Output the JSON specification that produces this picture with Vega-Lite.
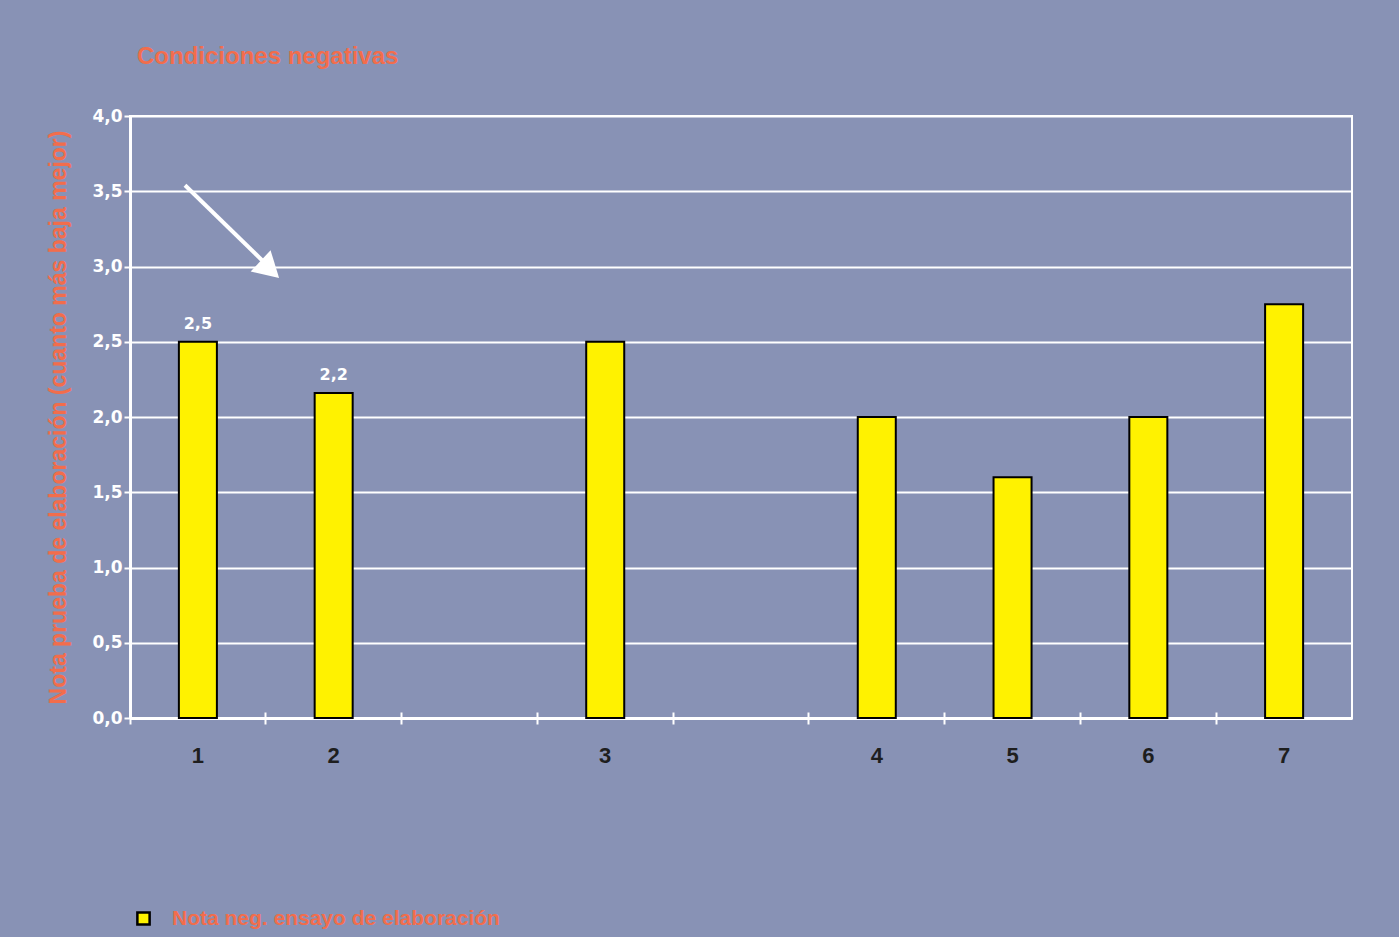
{
  "$schema": "https://vega.github.io/schema/vega-lite/v6.json",
  "autosize": "none",
  "width": 1222,
  "height": 602,
  "padding": {"left": 130, "top": 116, "right": 47, "bottom": 219},
  "background": "#8892b5",
  "title": {
    "text": "Condiciones negativas",
    "anchor": "start",
    "frame": "group",
    "dx": 7,
    "offset": 38,
    "font": "Liberation Sans",
    "fontSize": 24,
    "fontWeight": "bold",
    "color": "#f26d4c"
  },
  "config": {
    "view": {"stroke": "#ffffff", "strokeWidth": 2},
    "axis": {"labelFont": "Liberation Sans", "titleFont": "Liberation Sans"}
  },
  "datasets": {
    "notas": [
      {"grupo": "1", "nota": 2.5, "etiqueta": "2,5", "serie": "Nota neg. ensayo de elaboración"},
      {"grupo": "2", "nota": 2.16, "etiqueta": "2,2", "serie": "Nota neg. ensayo de elaboración"},
      {"grupo": "3", "nota": 2.5, "serie": "Nota neg. ensayo de elaboración"},
      {"grupo": "4", "nota": 2.0, "serie": "Nota neg. ensayo de elaboración"},
      {"grupo": "5", "nota": 1.6, "serie": "Nota neg. ensayo de elaboración"},
      {"grupo": "6", "nota": 2.0, "serie": "Nota neg. ensayo de elaboración"},
      {"grupo": "7", "nota": 2.75, "serie": "Nota neg. ensayo de elaboración"}
    ],
    "flecha": [
      {"xa": 0.405, "ya": 3.54, "xb": 1.02, "yb": 3.0, "xh": 1.03, "yh": 2.98}
    ]
  },
  "layer": [
    {
      "data": {"name": "notas"},
      "mark": {"type": "bar", "width": {"band": 0.28}, "stroke": "#000000", "strokeWidth": 2},
      "encoding": {
        "x": {
          "field": "grupo",
          "type": "nominal",
          "scale": {"type": "band", "domain": ["1", "2", "a", "3", "b", "4", "5", "6", "7"], "paddingInner": 0, "paddingOuter": 0},
          "axis": {
            "title": null,
            "orient": "bottom",
            "labelAngle": 0,
            "labelExpr": "datum.label == 'a' || datum.label == 'b' ? '' : datum.label",
            "labelFontSize": 22,
            "labelFontWeight": "bold",
            "labelColor": "#1e1e1e",
            "labelPadding": 27,
            "ticks": false,
            "domainColor": "#ffffff",
            "domainWidth": 3,
            "grid": false
          }
        },
        "y": {
          "field": "nota",
          "type": "quantitative",
          "scale": {"domain": [0, 4]},
          "axis": {
            "title": "Nota prueba de elaboración (cuanto más baja mejor)",
            "titleColor": "#f26d4c",
            "titleFontSize": 23,
            "titleFontWeight": "bold",
            "titlePadding": 21,
            "values": [0, 0.5, 1, 1.5, 2, 2.5, 3, 3.5, 4],
            "labelExpr": "replace(format(datum.value, '.1f'), '.', ',')",
            "labelColor": "#ffffff",
            "labelFont": "DejaVu Sans",
            "labelFontSize": 17,
            "labelFontWeight": "bold",
            "labelPadding": 2,
            "tickColor": "#ffffff",
            "tickSize": 6,
            "tickWidth": 2,
            "domainColor": "#ffffff",
            "domainWidth": 3,
            "gridColor": "#ffffff",
            "gridWidth": 2,
            "gridOpacity": 1
          }
        },
        "color": {
          "field": "serie",
          "type": "nominal",
          "scale": {"range": ["#fff200"]},
          "legend": {
            "title": null,
            "orient": "none",
            "legendX": 3,
            "legendY": 792,
            "padding": 0,
            "symbolType": "square",
            "symbolSize": 150,
            "symbolStrokeColor": "#000000",
            "symbolStrokeWidth": 2.5,
            "symbolOpacity": 1,
            "labelFont": "Liberation Sans",
            "labelFontSize": 21,
            "labelFontWeight": "bold",
            "labelColor": "#f26d4c",
            "labelOffset": 18,
            "labelLimit": 600
          }
        }
      }
    },
    {
      "data": {"name": "notas"},
      "transform": [{"filter": "isValid(datum.etiqueta)"}],
      "mark": {"type": "text", "dy": -18, "font": "DejaVu Sans", "fontSize": 16, "fontWeight": "bold", "color": "#ffffff"},
      "encoding": {
        "x": {
          "field": "grupo",
          "type": "nominal",
          "scale": {"type": "band", "domain": ["1", "2", "a", "3", "b", "4", "5", "6", "7"], "paddingInner": 0, "paddingOuter": 0},
          "axis": {
            "title": null,
            "orient": "bottom",
            "labels": false,
            "domain": false,
            "grid": false,
            "bandPosition": 0,
            "ticks": true,
            "tickColor": "#ffffff",
            "tickWidth": 2,
            "tickSize": 12,
            "offset": -6
          }
        },
        "y": {"field": "nota", "type": "quantitative"},
        "text": {"field": "etiqueta"}
      }
    },
    {
      "data": {"name": "flecha"},
      "mark": {"type": "rule", "color": "#ffffff", "strokeWidth": 4},
      "encoding": {
        "x": {"field": "xa", "type": "quantitative", "scale": {"domain": [0, 9], "nice": false, "zero": false}, "axis": null},
        "x2": {"field": "xb"},
        "y": {"field": "ya", "type": "quantitative"},
        "y2": {"field": "yb"}
      }
    },
    {
      "data": {"name": "flecha"},
      "mark": {"type": "point", "shape": "triangle-up", "filled": true, "color": "#ffffff", "opacity": 1, "size": 850, "angle": 133},
      "encoding": {
        "x": {"field": "xh", "type": "quantitative", "scale": {"domain": [0, 9], "nice": false, "zero": false}, "axis": null},
        "y": {"field": "yh", "type": "quantitative"}
      }
    }
  ],
  "resolve": {"scale": {"x": "independent", "color": "independent"}, "axis": {"x": "independent"}}
}
